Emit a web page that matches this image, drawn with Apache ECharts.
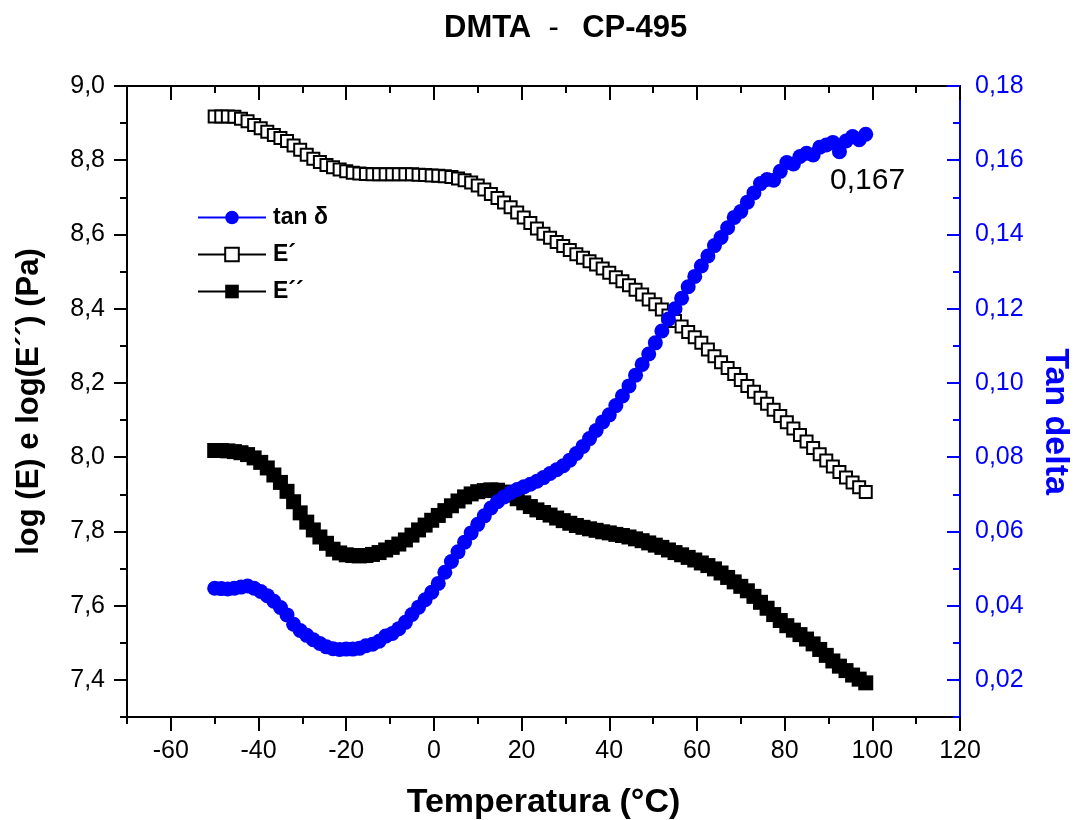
<!DOCTYPE html>
<html><head><meta charset="utf-8">
<script src="https://cdn.jsdelivr.net/npm/echarts@6/dist/echarts.min.js"></script>
<style>html,body{margin:0;padding:0;background:#fff}#c{width:1075px;height:820px}</style>
</head><body><div id="c"></div>
<script>
const temperature = [-50,-48.5,-47,-45.5,-44,-42.5,-41,-39.5,-38,-36.5,-35,-33.5,-32,-30.5,-29,-27.5,-26,-24.5,-23,-21.5,-20,-18.5,-17,-15.5,-14,-12.5,-11,-9.5,-8,-6.5,-5,-3.5,-2,-0.5,1,2.5,4,5.5,7,8.5,10,11.5,13,14.5,16,17.5,19,20.5,22,23.5,25,26.5,28,29.5,31,32.5,34,35.5,37,38.5,40,41.5,43,44.5,46,47.5,49,50.5,52,53.5,55,56.5,58,59.5,61,62.5,64,65.5,67,68.5,70,71.5,73,74.5,76,77.5,79,80.5,82,83.5,85,86.5,88,89.5,91,92.5,94,95.5,97,98.5];
const eStorage = [8.918,8.918,8.918,8.917,8.912,8.905,8.895,8.886,8.877,8.868,8.860,8.852,8.840,8.828,8.815,8.804,8.795,8.787,8.781,8.775,8.770,8.766,8.764,8.763,8.762,8.762,8.762,8.762,8.762,8.762,8.762,8.761,8.760,8.759,8.758,8.757,8.755,8.751,8.746,8.740,8.732,8.721,8.709,8.698,8.686,8.673,8.659,8.646,8.631,8.616,8.602,8.591,8.580,8.569,8.558,8.547,8.537,8.528,8.519,8.508,8.497,8.485,8.474,8.463,8.451,8.438,8.425,8.412,8.398,8.382,8.367,8.352,8.337,8.323,8.308,8.290,8.272,8.256,8.240,8.224,8.208,8.192,8.176,8.160,8.144,8.128,8.111,8.094,8.077,8.060,8.042,8.025,8.008,7.991,7.975,7.960,7.945,7.932,7.919,7.906];
const eLoss = [8.018,8.018,8.017,8.015,8.012,8.007,7.998,7.986,7.971,7.952,7.932,7.908,7.880,7.850,7.825,7.804,7.785,7.768,7.752,7.742,7.737,7.735,7.734,7.735,7.738,7.743,7.750,7.757,7.766,7.777,7.790,7.804,7.817,7.830,7.843,7.856,7.869,7.882,7.893,7.901,7.907,7.910,7.912,7.911,7.906,7.898,7.888,7.877,7.867,7.858,7.851,7.844,7.836,7.829,7.822,7.816,7.811,7.807,7.803,7.799,7.796,7.792,7.789,7.785,7.780,7.775,7.769,7.763,7.757,7.750,7.743,7.737,7.730,7.723,7.715,7.708,7.699,7.688,7.676,7.664,7.652,7.640,7.625,7.609,7.593,7.576,7.560,7.546,7.534,7.522,7.510,7.497,7.482,7.466,7.451,7.437,7.425,7.413,7.402,7.392];
const tanDelta = [0.0447,0.0446,0.0445,0.0447,0.0450,0.0453,0.0447,0.0438,0.0427,0.0412,0.0395,0.0375,0.0350,0.0333,0.0320,0.0308,0.0298,0.0289,0.0284,0.0282,0.0283,0.0283,0.0285,0.0292,0.0296,0.0304,0.0318,0.0325,0.0338,0.0355,0.0376,0.0396,0.0416,0.0436,0.0460,0.0490,0.0519,0.0545,0.0571,0.0596,0.0619,0.0642,0.0663,0.0680,0.0693,0.0704,0.0713,0.0720,0.0727,0.0735,0.0745,0.0756,0.0766,0.0777,0.0792,0.0810,0.0829,0.0850,0.0872,0.0895,0.0914,0.0939,0.0965,0.0992,0.1021,0.1050,0.1078,0.1108,0.1140,0.1172,0.1200,0.1228,0.1259,0.1287,0.1315,0.1342,0.1370,0.1392,0.1418,0.1446,0.1462,0.1487,0.1512,0.1537,0.1548,0.1546,0.1570,0.1594,0.1590,0.1610,0.1619,0.1614,0.1635,0.1641,0.1648,0.1623,0.1652,0.1664,0.1655,0.1670];
const xMajorTicks = [-60,-40,-20,0,20,40,60,80,100,120];
const xMinorTicks = [-70,-50,-30,-10,10,30,50,70,90,110];
const yLeftMajorTicks = [7.4,7.6,7.8,8.0,8.2,8.4,8.6,8.8,9.0];
const yLeftMinorTicks = [7.3,7.5,7.7,7.9,8.1,8.3,8.5,8.7,8.9];
const yRightMajorTicks = [0.02,0.04,0.06,0.08,0.10,0.12,0.14,0.16,0.18];
const yRightMinorTicks = [0.01,0.03,0.05,0.07,0.09,0.11,0.13,0.15,0.17];
const seriesNames = ['tan δ', 'E´', 'E´´'];
const titleParts = ['DMTA', '  -  \u2009', 'CP-495'];
const annotationText = '0,167';

const FONT = 'Liberation Sans, Arial, sans-serif';
const BLUE = '#0000ff';
const pairs = (ys) => temperature.map((t, i) => [t, ys[i]]);

function xAxisDef(pos, ticks, len, inside, labels) {
  return {
    type: 'value', position: pos, min: -70, max: 120,
    axisLine: { show: true, onZero: false, lineStyle: { color: '#000', width: 2 } },
    axisTick: { show: true, inside: inside, length: len, customValues: ticks, lineStyle: { color: '#000', width: 2 } },
    axisLabel: labels ? { show: true, customValues: ticks, fontFamily: FONT, fontSize: 25, color: '#000', margin: 22 } : { show: false },
    splitLine: { show: false }
  };
}
function yAxisDef(pos, min, max, ticks, len, inside, color, labelFmt) {
  return {
    type: 'value', position: pos, min: min, max: max,
    axisLine: { show: true, onZero: false, lineStyle: { color: color, width: 2 } },
    axisTick: { show: true, inside: inside, length: len, customValues: ticks, lineStyle: { color: color, width: 2 } },
    axisLabel: labelFmt ? { show: true, customValues: ticks, formatter: labelFmt, fontFamily: FONT, fontSize: 25, color: color, margin: pos === 'left' ? 22 : 15 } : { show: false },
    splitLine: { show: false }
  };
}

const xAxes = [
  xAxisDef('bottom', xMajorTicks, 14, false, true),
  xAxisDef('bottom', xMinorTicks, 7, false, false),
  xAxisDef('top', xMajorTicks, 14, true, false),
  xAxisDef('top', xMinorTicks, 7, true, false)
];
xAxes[0].name = 'Temperatura (°C)';
xAxes[0].nameLocation = 'middle';
xAxes[0].nameGap = 69;
xAxes[0].nameTextStyle = { fontFamily: FONT, fontSize: 34, fontWeight: 'bold', color: '#000' };

const yAxes = [
  yAxisDef('left', 7.3, 9.0, yLeftMajorTicks, 13, false, '#000', v => v.toFixed(1).replace('.', ',')),
  yAxisDef('left', 7.3, 9.0, yLeftMinorTicks, 7, false, '#000', null),
  yAxisDef('right', 0.01, 0.18, yRightMajorTicks, 13, true, BLUE, v => v.toFixed(2).replace('.', ',')),
  yAxisDef('right', 0.01, 0.18, yRightMinorTicks, 7, true, BLUE, null)
];
yAxes[0].name = 'log (E) e log(E´´) (Pa)';
yAxes[0].nameLocation = 'middle';
yAxes[0].nameGap = 82;
yAxes[0].nameTextStyle = { fontFamily: FONT, fontSize: 31, fontWeight: 'bold', color: '#000' };
yAxes[2].name = 'Tan delta';
yAxes[2].nameLocation = 'middle';
yAxes[2].nameGap = 78;
yAxes[2].nameRotate = -90;
yAxes[2].nameTextStyle = { fontFamily: FONT, fontSize: 34, fontWeight: 'bold', color: BLUE, padding: [0, 0, 0, 40] };

const chart = echarts.init(document.getElementById('c'), null, { renderer: 'canvas' });
chart.setOption({
  animation: false,
  backgroundColor: '#fff',
  title: {
    text: '{b|' + titleParts[0] + '}{n|' + titleParts[1] + '}{b|' + titleParts[2] + '}',
    left: 439, top: 8,
    textStyle: {
      rich: {
        b: { fontFamily: FONT, fontSize: 31, fontWeight: 'bold', color: '#000' },
        n: { fontFamily: FONT, fontSize: 31, fontWeight: 'normal', color: '#000' }
      }
    }
  },
  grid: { left: 127, right: 115, top: 86, bottom: 103, containLabel: false, outerBoundsMode: 'none' },
  legend: {
    orient: 'vertical', left: 197, top: 206, padding: 0, itemWidth: 68, itemHeight: 17, itemGap: 14,
    data: seriesNames, selectedMode: false,
    textStyle: { fontFamily: FONT, fontSize: 23, fontWeight: 'bold', color: '#000', padding: [0, 0, 0, 2] }
  },
  xAxis: xAxes,
  yAxis: yAxes,
  series: [
    {
      name: seriesNames[1], type: 'line', xAxisIndex: 0, yAxisIndex: 0, data: pairs(eStorage),
      symbol: 'rect', symbolSize: 12, showSymbol: true, showAllSymbol: true,
      lineStyle: { color: '#000', width: 1.5 },
      itemStyle: { color: '#fff', borderColor: '#000', borderWidth: 2 }, z: 2
    },
    {
      name: seriesNames[2], type: 'line', xAxisIndex: 0, yAxisIndex: 0, data: pairs(eLoss),
      symbol: 'rect', symbolSize: 15, showSymbol: true, showAllSymbol: true,
      lineStyle: { color: '#000', width: 1.5 },
      itemStyle: { color: '#000', borderColor: '#000', borderWidth: 0 }, z: 3
    },
    {
      name: seriesNames[0], type: 'line', xAxisIndex: 0, yAxisIndex: 2, data: pairs(tanDelta),
      symbol: 'circle', symbolSize: 15, showSymbol: true, showAllSymbol: true,
      lineStyle: { color: BLUE, width: 2 },
      itemStyle: { color: BLUE, borderWidth: 0 }, z: 4
    }
  ],
  graphic: [
    { type: 'text', left: 830, top: 166, z: 10,
      style: { text: annotationText, font: '30px ' + FONT, fill: '#000' } }
  ]
});
</script>
</body></html>
